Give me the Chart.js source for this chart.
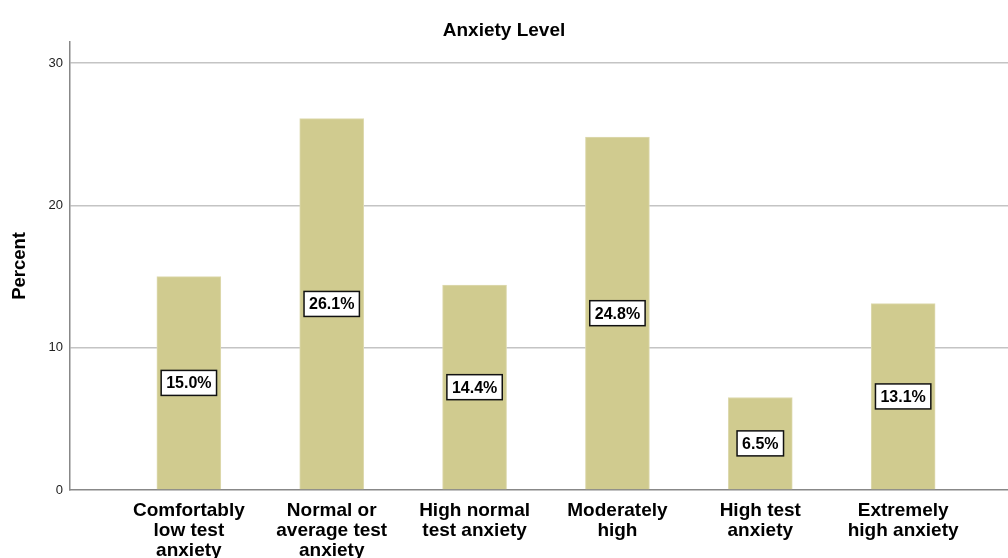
<!DOCTYPE html>
<html>
<head>
<meta charset="utf-8">
<script src="https://cdn.jsdelivr.net/npm/chart.js@4/dist/chart.umd.min.js"></script>
<style>
  html, body { margin: 0; padding: 0; background: #fff; }
  #wrap { width: 1008px; height: 558px; }
</style>
</head>
<body>
<div id="wrap"><canvas id="chart" width="1008" height="558"></canvas></div>
<script>
// Categorias do eixo x (cada linha do rótulo separada)
const categoryLabels = [
  ['Comfortably', 'low test', 'anxiety'],
  ['Normal or', 'average test', 'anxiety'],
  ['High normal', 'test anxiety'],
  ['Moderately', 'high'],
  ['High test', 'anxiety'],
  ['Extremely', 'high anxiety'],
];
// Percentuais de cada nível
const percentValues = [15.0, 26.1, 14.4, 24.8, 6.5, 13.1];
// Marcas do eixo y
const yTicks = [0, 10, 20, 30];

const FONT = "'Liberation Sans', Arial, sans-serif";
const barColor = 'rgb(208, 203, 143)';

// Plugin que desenha a caixa branca com o percentual no meio de cada barra
const valueBoxes = {
  id: 'valueBoxes',
  afterDatasetsDraw(chart) {
    const ctx = chart.ctx;
    const meta = chart.getDatasetMeta(0);
    ctx.save();
    ctx.font = 'bold 16px ' + FONT;
    ctx.textAlign = 'center';
    ctx.textBaseline = 'middle';
    meta.data.forEach((bar, i) => {
      const text = percentValues[i].toFixed(1) + '%';
      const w = ctx.measureText(text).width + 10;
      const h = 25;
      const cx = bar.x;
      const cy = (bar.y + bar.base) / 2;
      ctx.fillStyle = '#fff';
      ctx.fillRect(cx - w / 2, cy - h / 2, w, h);
      ctx.strokeStyle = '#111';
      ctx.lineWidth = 1.5;
      ctx.strokeRect(cx - w / 2, cy - h / 2, w, h);
      ctx.fillStyle = '#000';
      ctx.fillText(text, cx, cy + 1);
    });
    ctx.restore();
  },
};

new Chart(document.getElementById('chart'), {
  type: 'bar',
  data: {
    datasets: [
      {
        data: percentValues.map((v, i) => ({ x: i, y: v })),
        backgroundColor: barColor,
        borderColor: 'rgb(222, 218, 176)',
        borderWidth: 1,
        barThickness: 64,
      },
    ],
  },
  options: {
    responsive: false,
    animation: false,
    devicePixelRatio: 1,
    layout: { padding: { right: 0, bottom: 0, left: 0 } },
    plugins: {
      legend: { display: false },
      tooltip: { enabled: false },
      title: {
        display: true,
        text: 'Anxiety Level',
        color: '#000',
        font: { family: FONT, size: 19, weight: 'bold', lineHeight: 1.2 },
        padding: { top: 19, bottom: 0 },
      },
    },
    scales: {
      x: {
        type: 'linear',
        offset: false,
        min: -0.832,
        max: 5.734,
        afterBuildTicks: (scale) => {
          scale.ticks = categoryLabels.map((c, i) => ({ value: i }));
        },
        afterFit: (scale) => {
          scale.height = 68;
        },
        grid: { display: false, drawTicks: false, offset: false },
        border: { color: '#888', width: 1.5 },
        ticks: {
          autoSkip: false,
          maxRotation: 0,
          padding: 11,
          color: '#000',
          font: { family: FONT, size: 19, weight: 'bold', lineHeight: 1.04 },
          callback: (value) => categoryLabels[value],
        },
      },
      y: {
        min: 0,
        max: 31.5,
        afterBuildTicks: (scale) => {
          scale.ticks = yTicks.map((v) => ({ value: v }));
        },
        afterFit: (scale) => {
          scale.width = 70;
        },
        grid: {
          drawTicks: false,
          color: (c) => (c.tick && c.tick.value === 0 ? 'rgba(0,0,0,0)' : '#c4c4c4'),
          lineWidth: 1.5,
        },
        border: { color: '#888', width: 1.5 },
        ticks: {
          padding: 7,
          color: '#222',
          font: { family: FONT, size: 13 },
        },
        title: {
          display: true,
          text: 'Percent',
          color: '#000',
          font: { family: FONT, size: 18.5, weight: 'bold' },
          padding: { top: 9, bottom: 0 },
        },
      },
    },
  },
  plugins: [valueBoxes],
});
</script>
</body>
</html>
